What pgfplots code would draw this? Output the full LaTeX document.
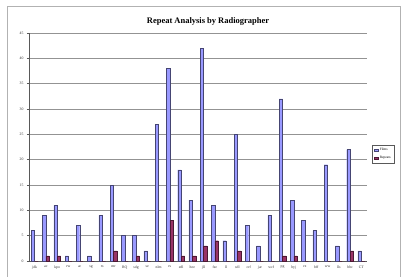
\documentclass[border=0pt]{standalone}
\usepackage{pgfplots}
\pgfplotsset{compat=1.18}
\usepackage{fontspec}
\setmainfont{Liberation Serif}
\definecolor{films}{HTML}{9999FF}
\definecolor{repeats}{HTML}{993366}
\pgfplotstableread{
x films repeats
0 6 0
1 9 1
2 11 1
3 1 0
4 7 0
5 1 0
6 9 0
7 15 2
8 5 0
9 5 1
10 2 0
11 27 0
12 38 8
13 18 1
14 12 1
15 42 3
16 11 4
17 4 0
18 25 2
19 7 0
20 3 0
21 9 0
22 32 1
23 12 1
24 8 0
25 6 0
26 19 0
27 3 0
28 22 2
29 2 0
}\datatable
\begin{document}
\begin{tikzpicture}[x=1bp,y=1bp]
\useasboundingbox (0,0) rectangle (406,-277);
\fill[white] (0,0) rectangle (406,-277);
\draw[gray!60, line width=1bp] (7,-277) -- (7,-6) -- (400,-6) -- (400,-277);
\node[font=\fontsize{8.5}{9}\selectfont\bfseries] at (208,-21) {Repeat Analysis by Radiographer};
\begin{axis}[
  at={(29bp,-261bp)}, anchor=south west,
  scale only axis, width=338bp, height=228bp,
  ymin=0, ymax=45, ytick={0,5,...,45},
  xmin=-0.5, xmax=29.5, xtick={0,...,29},
  xticklabels={jdk,ac,kpo,rw,ac,sg,rs,mr,RQ,sdg,se,nlm,rs,edl,hee,jll,fse,ll,sdl,crf,jar,wcf,pg,byj,rx,bff,ww,lls,bbc,CT},
  ybar=0pt, bar width=3.4bp,
  axis x line*=bottom, axis y line*=left,
  axis line style={gray!70!black, line width=0.7bp},
  ymajorgrids, grid style={gray!85, line width=0.9bp},
  tick label style={font=\fontsize{3.8}{4}\selectfont, text=black!80},
  /pgf/number format/assume math mode=true,
  x tick style={draw=none},
  y tick style={gray!70!black, line width=0.5bp},
  tick align=outside, major tick length=2bp,
  xticklabel style={yshift=1bp},
  legend style={at={(1.015,0.469)}, anchor=west, font=\fontsize{3.5}{4}\selectfont,
    draw=gray!70!black, line width=0.5bp, inner sep=1.2pt, row sep=0.5pt,
    /tikz/every even column/.append style={column sep=1pt}},
  legend image code/.code={\draw[#1, line width=0.3bp] (0bp,-1.2bp) rectangle (4bp,1.2bp);},
  legend cell align=left,
]
\addplot[fill=films, draw=films!45!black, line width=0.35bp] table[x=x, y=films] {\datatable};
\addplot[fill=repeats, draw=repeats!50!black, line width=0.35bp] table[x=x, y=repeats] {\datatable};
\legend{Films, Repeats}
\end{axis}
\end{tikzpicture}
\end{document}
